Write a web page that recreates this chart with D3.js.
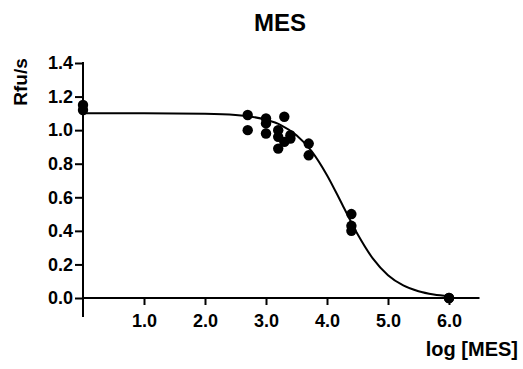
<!DOCTYPE html>
<html>
<head>
<meta charset="utf-8">
<script src="https://cdn.jsdelivr.net/npm/d3@7"></script>
<style>
  body { margin: 0; background: #fff; }
  svg { display: block; }
  text { font-family: "Liberation Sans", Arial, sans-serif; font-weight: bold; fill: #000; }
</style>
</head>
<body>
<svg id="chart" width="523" height="369"></svg>
<script>
// measured points: log [MES] vs Rfu/s
const logDose = [0, 0, 2.7, 2.7, 3.0, 3.0, 3.0, 3.2, 3.2, 3.2, 3.3, 3.3, 3.4, 3.4, 3.7, 3.7, 4.4, 4.4, 4.4, 6.0, 6.0];
const rate    = [1.15, 1.12, 1.09, 1.00, 1.07, 1.04, 0.98, 1.00, 0.96, 0.89, 1.08, 0.93, 0.97, 0.95, 0.92, 0.85, 0.50, 0.43, 0.40, 0.0, 0.0];

// fitted curve
const curveX = [0, 1, 2, 2.5, 3, 3.25, 3.5, 3.75, 4, 4.25, 4.5, 4.75, 5, 5.25, 5.5, 5.75, 6];
const curveY = [1.100, 1.100, 1.097, 1.090, 1.062, 1.029, 0.970, 0.874, 0.732, 0.557, 0.381, 0.236, 0.136, 0.075, 0.040, 0.021, 0.011];

const xTicks = [1, 2, 3, 4, 5, 6];
const yTicks = [0, 0.2, 0.4, 0.6, 0.8, 1.0, 1.2, 1.4];

const svg = d3.select("#chart");

const x = d3.scaleLinear().domain([0, 6.5]).range([83, 479.5]);
const y = d3.scaleLinear().domain([0, 1.4]).range([298, 63]);

const fmt = d3.format(".1f");

// y axis
const yAxis = d3.axisLeft(y)
  .tickValues(yTicks)
  .tickFormat(fmt)
  .tickSizeOuter(0)
  .tickSize(8)
  .tickPadding(2);

const gy = svg.append("g")
  .attr("transform", `translate(${x(0)},0)`)
  .call(yAxis);
gy.select(".domain").remove();
gy.selectAll(".tick line").attr("stroke", "#000").attr("stroke-width", 2);
gy.selectAll(".tick text").style("font-size", "18px");
// y axis line continues below zero
svg.append("line")
  .attr("x1", x(0)).attr("x2", x(0))
  .attr("y1", y(1.4) - 1).attr("y2", y(-0.113))
  .attr("stroke", "#000").attr("stroke-width", 2);

// x axis
const xAxis = d3.axisBottom(x)
  .tickValues(xTicks)
  .tickFormat(fmt)
  .tickSizeOuter(0)
  .tickSize(7)
  .tickPadding(9);

const gx = svg.append("g")
  .attr("transform", `translate(0,${y(0)})`)
  .call(xAxis);
gx.select(".domain").remove();
gx.selectAll(".tick line").attr("stroke", "#000").attr("stroke-width", 2);
gx.selectAll(".tick text").style("font-size", "18px");
svg.append("line")
  .attr("x1", x(0)).attr("x2", x(6.5))
  .attr("y1", y(0)).attr("y2", y(0))
  .attr("stroke", "#000").attr("stroke-width", 2);

// fit curve
const line = d3.line()
  .x(d => x(d[0]))
  .y(d => y(d[1]))
  .curve(d3.curveMonotoneX);

svg.append("path")
  .datum(d3.zip(curveX, curveY))
  .attr("d", line)
  .attr("fill", "none")
  .attr("stroke", "#000")
  .attr("stroke-width", 2);

// points
svg.selectAll(".pt")
  .data(d3.zip(logDose, rate))
  .enter()
  .append("circle")
  .attr("class", "pt")
  .attr("cx", d => x(d[0]))
  .attr("cy", d => y(d[1]))
  .attr("r", 5.2)
  .attr("fill", "#000");

// titles
svg.append("text")
  .attr("x", 280)
  .attr("y", 31)
  .attr("text-anchor", "middle")
  .style("font-size", "24px")
  .text("MES");

svg.append("text")
  .attr("transform", "translate(27,82) rotate(-90)")
  .attr("text-anchor", "middle")
  .style("font-size", "19px")
  .text("Rfu/s");

svg.append("text")
  .attr("x", 518)
  .attr("y", 356)
  .attr("text-anchor", "end")
  .style("font-size", "20px")
  .text("log [MES]");
</script>
</body>
</html>
